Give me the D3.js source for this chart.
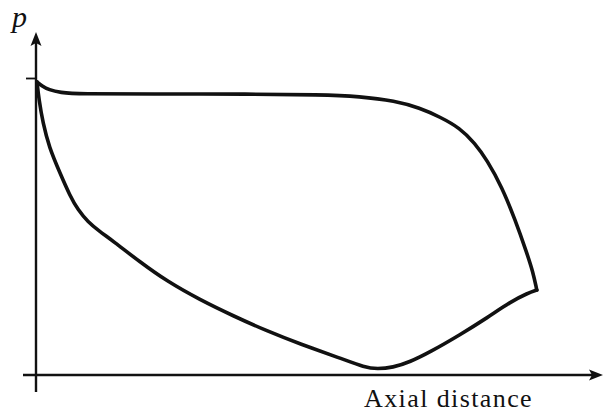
<!DOCTYPE html>
<html>
<head>
<meta charset="utf-8">
<script src="https://cdn.jsdelivr.net/npm/d3@7"></script>
<style>
  html, body { margin: 0; padding: 0; background: #fff; }
  svg { display: block; }
</style>
</head>
<body>
<svg id="chart" width="604" height="416"></svg>
<script>
// Pressure along the axial distance: upper branch (inlet peak to the right-hand corner)
const upperX = [0.18, 1.08, 2.35, 4.33, 7.76, 20.6, 38.6, 51.3, 58.5, 64.8, 69.3, 72.9, 76.5, 79.2, 81.4, 84.1, 86.5, 88.6, 89.7, 90.4];
const upperP = [0.987, 0.973, 0.960, 0.951, 0.946, 0.946, 0.946, 0.944, 0.938, 0.923, 0.899, 0.869, 0.832, 0.781, 0.724, 0.633, 0.522, 0.411, 0.347, 0.286];
// Lower branch (inlet peak to the right-hand corner, through the minimum)
const lowerX = [0.18, 0.54, 1.26, 2.35, 4.33, 6.14, 7.58, 9.39, 11.37, 13.9, 18.8, 23.6, 29.6, 35.6, 41.7, 47.7, 54.9, 59.4, 61.6, 64.4, 67.5, 71.1, 76.5, 81.4, 85.6, 88.8, 90.4];
const lowerP = [0.987, 0.926, 0.848, 0.768, 0.680, 0.603, 0.556, 0.515, 0.485, 0.451, 0.380, 0.316, 0.253, 0.199, 0.148, 0.104, 0.057, 0.025, 0.020, 0.025, 0.044, 0.077, 0.135, 0.192, 0.246, 0.276, 0.286];
// Single marked level on the p axis
const pTicks = [1];

const svg = d3.select("#chart");
const x = d3.scaleLinear().domain([0, 100]).range([36, 590]);
const y = d3.scaleLinear().domain([0, 1]).range([375, 78]);

const ink = "#111";

// Axis lines with arrowheads
const x0 = x(0), y0 = y(0);
svg.append("line").attr("x1", 23).attr("y1", y0).attr("x2", 598).attr("y2", y0)
  .attr("stroke", ink).attr("stroke-width", 2.4);
svg.append("line").attr("x1", x0).attr("y1", 392).attr("x2", x0).attr("y2", 40)
  .attr("stroke", ink).attr("stroke-width", 2.4);

// y arrowhead
svg.append("path")
  .attr("d", `M${x0},32 L${x0 + 5.5},46 L${x0},43 L${x0 - 5.5},46 Z`)
  .attr("fill", ink);
// x arrowhead
svg.append("path")
  .attr("d", `M603,${y0} L589,${y0 - 5.5} L592,${y0} L589,${y0 + 5.5} Z`)
  .attr("fill", ink);

// Tick on the p axis
const yAxis = d3.axisLeft(y).tickValues(pTicks).tickSize(11).tickFormat("");
const gy = svg.append("g").attr("transform", `translate(${x0 + 1},0)`).call(yAxis);
gy.select(".domain").remove();
gy.selectAll(".tick line").attr("stroke", ink).attr("stroke-width", 1.8);

// The two branches of the closed pressure curve
const line = d3.line().x(d => x(d[0])).y(d => y(d[1])).curve(d3.curveBasis);
const upper = upperX.map((v, i) => [v, upperP[i]]);
const lower = lowerX.map((v, i) => [v, lowerP[i]]);
[upper, lower].forEach(pts => {
  svg.append("path").datum(pts).attr("d", line)
    .attr("fill", "none").attr("stroke", ink).attr("stroke-width", 3.6)
    .attr("stroke-linejoin", "round").attr("stroke-linecap", "round");
});

// Labels
svg.append("text").attr("x", 12).attr("y", 27)
  .attr("font-family", "Liberation Serif")
  .attr("font-style", "italic").attr("font-size", 30).attr("fill", ink).text("p");
svg.append("text").attr("x", 364).attr("y", 407)
  .attr("font-family", "Liberation Serif")
  .attr("font-size", 26).attr("letter-spacing", 1.4).attr("fill", ink)
  .text("Axial distance");
</script>
</body>
</html>
